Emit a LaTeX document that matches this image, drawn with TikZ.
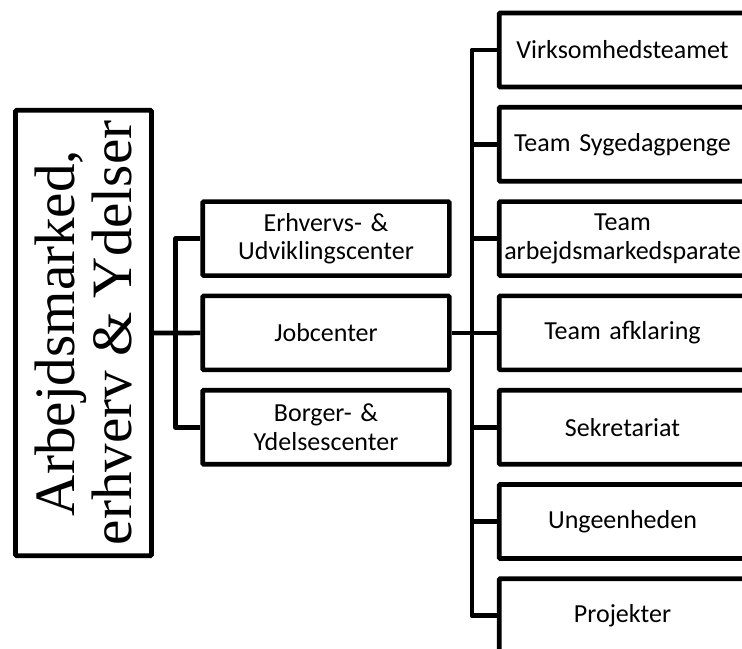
\documentclass[tikz,border=0pt]{standalone}
\usepackage{fontspec}
\setmainfont{Carlito}
\newfontfamily\serifhead{Liberation Serif}
\usepackage{tikz}

\tikzset{
  unitbox/.style={draw, line width=3.5pt, rounded corners=0.8pt, text width=185pt, minimum height=55.5pt,
    inner sep=0pt, align=center, font=\fontsize{19.5}{21.5}\selectfont},
  headbox/.style={draw, line width=3.5pt, rounded corners=0.8pt, rotate=90, minimum width=334pt, minimum height=102pt,
    inner sep=0pt, align=center, font=\serifhead\fontsize{42.8}{43}\selectfont},
  link/.style={line width=3.5pt, line join=round}
}

\begin{document}
\begin{tikzpicture}[x=0.75pt,y=0.75pt,yscale=-1,xscale=1]
\useasboundingbox (0,0) rectangle (742,649);
\clip (0,0) rectangle (742,649);

% Head box
\node [headbox] (head) at (83.5,333) {Arbejdsmarked,\\erhverv \& Ydelser};

% Centres
\node [unitbox] (erh) at (326,238.6) {Erhvervs- \&\\Udviklingscenter};
\node [unitbox] (job) at (326,332.9) {Jobcenter};
\node [unitbox] (bor) at (326,427.2) {Borger- \&\\Ydelsescenter};

% Teams
\node [unitbox] (vir) at (622.5,50) {Virksomhedsteamet};
\node [unitbox] (syg) at (622.5,144.3) {Team Sygedagpenge};
\node [unitbox] (arb) at (622.5,238.6) {Team\\arbejdsmarkedsparate};
\node [unitbox] (afk) at (622.5,332.9) {Team afklaring};
\node [unitbox] (sek) at (622.5,427.2) {Sekretariat};
\node [unitbox] (ung) at (622.5,521.5) {Ungeenheden};
\node [unitbox] (pro) at (622.5,615.8) {Projekter};

% Connectors
\draw [link] (head.south) -- (job.west);
\draw [link] (erh.west) -- ++(-25,0) |- (bor.west);
\draw [link] (job.east) -- (afk.west);
\draw [link] (vir.west) -- ++(-25,0) |- (pro.west);
\foreach \t in {syg,arb,sek,ung}
  \draw [link] (\t.west) -- ++(-25,0);
\end{tikzpicture}
\end{document}
